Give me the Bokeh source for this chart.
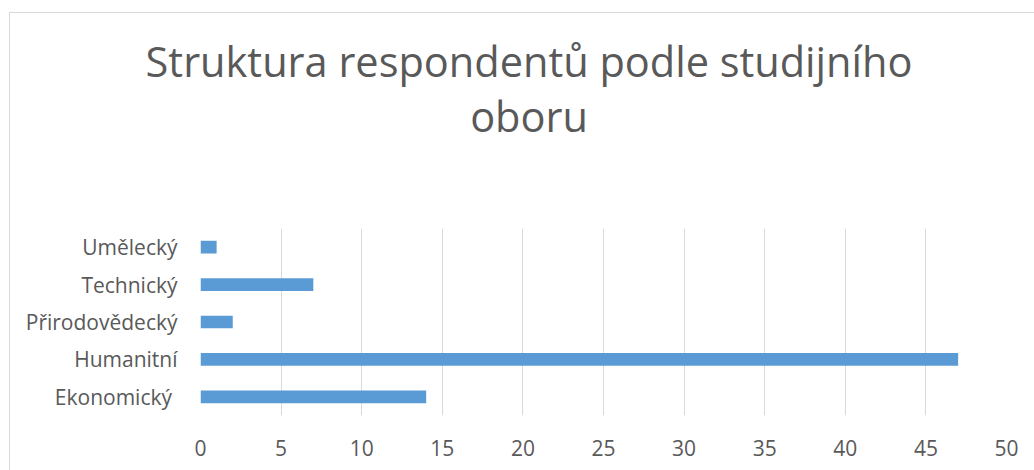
from bokeh.plotting import figure
from bokeh.layouts import column
from bokeh.models import FactorRange, Range1d, FixedTicker, Div
from bokeh.embed import file_html
from bokeh.resources import INLINE

categories = ["Ekonomický ", "Humanitní", "Přirodovědecký", "Technický", "Umělecký"]
values = [14, 47, 2, 7, 1]
x_ticks = [0, 5, 10, 15, 20, 25, 30, 35, 40, 45, 50]
title_lines = ["Struktura respondentů podle studijního", "oboru"]

TEXT = "#595959"
GRID = "#d9d9d9"
BAR = "#5b9bd5"
FONT = "Open Sans"

W = 1024
TH = 215

# --- title area ---
title_html = (
    '<div style="width:1010px;margin:0 0 0 14px;padding:21px 0 0 0;text-align:center;'
    "font-family:'Open Sans';font-size:41.5px;line-height:55px;color:%s;white-space:nowrap\">%s</div>"
    % (TEXT, "<br>".join(title_lines))
)
t = Div(text=title_html, width=W, height=TH, margin=0)

# --- bar chart ---
p = figure(width=W, height=242, output_backend="svg", toolbar_location=None,
           y_range=FactorRange(factors=categories, range_padding=0),
           x_range=Range1d(0, 50),
           min_border_left=190, min_border_right=28, min_border_top=0, min_border_bottom=55)
p.margin = 0

p.hbar(y=categories, right=values, left=0, height=0.34, color=BAR, line_color=None)

p.outline_line_color = None
p.ygrid.grid_line_color = None
p.xgrid.grid_line_color = GRID
p.xgrid.grid_line_width = 1
p.xaxis.ticker = FixedTicker(ticks=x_ticks)
for ax in (p.xaxis, p.yaxis):
    ax.axis_line_color = None
    ax.major_tick_line_color = None
    ax.minor_tick_line_color = None
    ax.major_tick_out = 0
    ax.major_tick_in = 0
    ax.major_label_text_color = TEXT
    ax.major_label_text_font = FONT
    ax.major_label_text_font_size = "21px"
p.xaxis.major_label_standoff = 24
p.yaxis.major_label_standoff = 23

layout = column(t, p, spacing=0)
layout.margin = (12, 0, 0, 9)
layout.styles = {"border-top": "1px solid #d9d9d9", "border-left": "1px solid #d9d9d9"}

open("out.html", "w").write(file_html(layout, INLINE))
